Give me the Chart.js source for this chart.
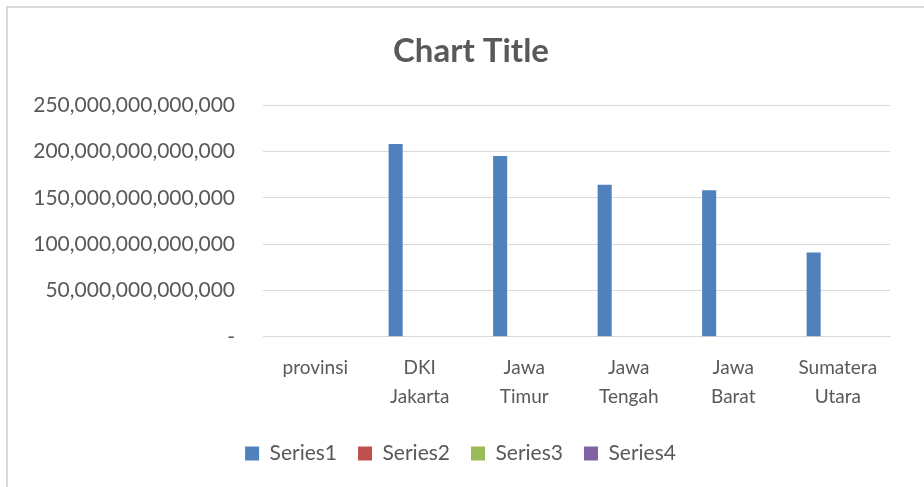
<!DOCTYPE html>
<html>
<head>
<meta charset="utf-8">
<script src="https://cdn.jsdelivr.net/npm/chart.js@4"></script>
<style>
  html, body { margin: 0; padding: 0; background: #fff; overflow: hidden; width: 924px; height: 487px; }
  #frame { position: absolute; left: 6px; top: 6px; width: 940px; height: 500px; border: 2px solid #d9d9d9; box-sizing: border-box; }
  #wrap { position: absolute; left: 7px; top: 7px; width: 930px; height: 480px; }
</style>
</head>
<body>
<div id="frame"></div>
<div id="wrap"><canvas id="chart"></canvas></div>
<script>
// data
const categories = [['provinsi'], ['DKI', 'Jakarta'], ['Jawa', 'Timur'], ['Jawa', 'Tengah'], ['Jawa', 'Barat'], ['Sumatera', 'Utara']];
const series1 = [null, 208e12, 195e12, 164e12, 158e12, 91e12];
const series2 = [null, null, null, null, null, null];
const series3 = [null, null, null, null, null, null];
const series4 = [null, null, null, null, null, null];
const seriesNames = ['Series1', 'Series2', 'Series3', 'Series4'];
const yTicks = [0, 50e12, 100e12, 150e12, 200e12, 250e12];
const titleText = 'Chart Title';

const colors = ['#4f81bd', '#c0504d', '#9bbb59', '#8064a2'];
const textColor = '#595959';
const fontFamily = 'Lato, "Open Sans", sans-serif';

// the chart title sits off-centre of the plot (excel style), so draw it here
const excelTitle = {
    id: 'excelTitle',
    afterDraw(chart) {
        const c = chart.ctx;
        c.save();
        c.font = 'bold 33px ' + fontFamily;
        c.fillStyle = textColor;
        c.textAlign = 'center';
        c.textBaseline = 'middle';
        c.fillText(titleText, 464, 44);
        c.restore();
    }
};

const ctx = document.getElementById('chart');

new Chart(ctx, {
    type: 'bar',
    data: {
        labels: categories,
        datasets: [series1, series2, series3, series4].map((d, i) => ({
            label: seriesNames[i],
            data: d,
            backgroundColor: colors[i],
            borderWidth: 0,
            categoryPercentage: 0.615,
            barPercentage: 0.875
        }))
    },
    plugins: [excelTitle],
    options: {
        responsive: true,
        maintainAspectRatio: false,
        animation: false,
        layout: {
            padding: { left: 24, right: 47, top: 98, bottom: 13 }
        },
        scales: {
            x: {
                grid: {
                    display: false
                },
                border: {
                    display: true,
                    color: '#d9d9d9',
                    width: 1
                },
                afterFit: (scale) => {
                    scale.height += 3;
                },
                ticks: {
                    color: textColor,
                    padding: 8,
                    maxRotation: 0,
                    autoSkip: false,
                    font: { family: fontFamily, size: 19, lineHeight: 1.53 }
                }
            },
            y: {
                min: 0,
                max: 250e12,
                afterBuildTicks: (scale) => {
                    scale.ticks = yTicks.map(v => ({ value: v }));
                },
                afterFit: (scale) => {
                    scale.width = 232;
                },
                grid: {
                    color: '#d9d9d9',
                    drawTicks: false
                },
                border: {
                    display: false
                },
                ticks: {
                    color: textColor,
                    padding: 28,
                    font: { family: fontFamily, size: 21 },
                    callback: (v) => v === 0 ? '-' : v.toLocaleString('en-US')
                }
            }
        },
        plugins: {
            title: { display: false },
            legend: {
                position: 'bottom',
                labels: {
                    color: textColor,
                    boxWidth: 14,
                    boxHeight: 14,
                    padding: 21,
                    font: { family: fontFamily, size: 21 }
                }
            },
            tooltip: { enabled: false }
        }
    }
});
</script>
</body>
</html>
